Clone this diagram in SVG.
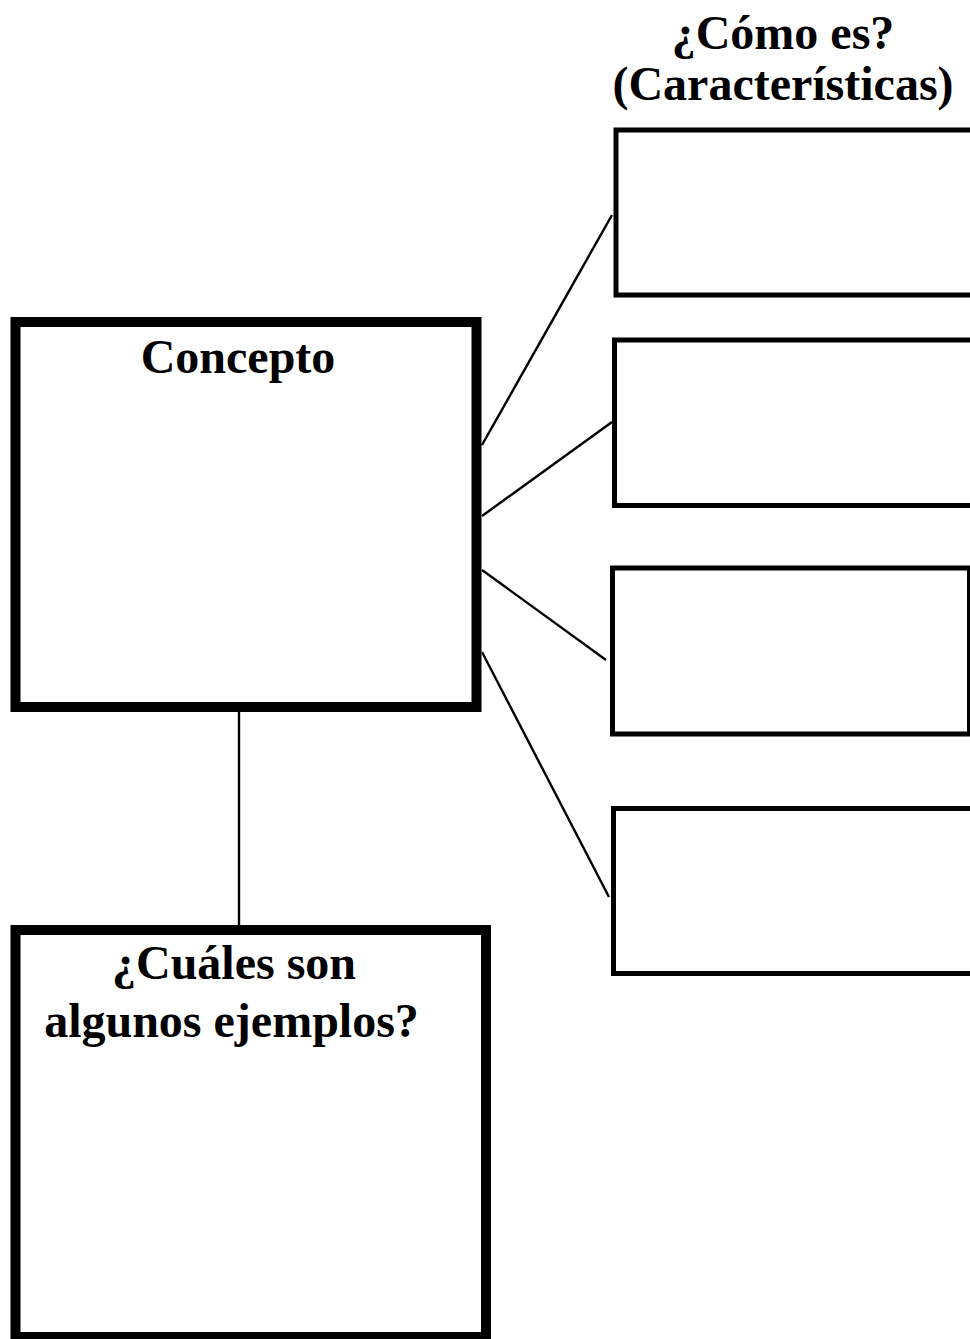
<svg xmlns="http://www.w3.org/2000/svg" width="970" height="1339" viewBox="0 0 970 1339">
  <style>
    .label { font-family: "Liberation Serif", "Times New Roman", serif; font-weight: bold; font-size: 48px; fill: #000; }
    .heavy { fill: #fff; stroke: #000; stroke-width: 10; }
    .light { fill: #fff; stroke: #000; stroke-width: 5; }
    .link { stroke: #000; stroke-width: 2.4; fill: none; }
  </style>
  <rect width="970" height="1339" fill="#fff"/>

  <!-- title above the characteristics column -->
  <g id="title">
    <text class="label" x="783" y="49" text-anchor="middle">¿Cómo es?</text>
    <text class="label" x="783" y="100" text-anchor="middle">(Características)</text>
  </g>

  <!-- connectors -->
  <g id="connectors">
    <line class="link" x1="482" y1="445" x2="612" y2="215"/>
    <line class="link" x1="482" y1="516" x2="612" y2="422"/>
    <line class="link" x1="482" y1="570" x2="606" y2="660"/>
    <line class="link" x1="482" y1="652" x2="609" y2="897"/>
    <line class="link" x1="239" y1="712" x2="239" y2="926"/>
  </g>

  <!-- central concept -->
  <g id="concepto">
    <rect class="heavy" x="15.5" y="322" width="461" height="385"/>
    <text class="label" x="238" y="373" text-anchor="middle">Concepto</text>
  </g>

  <!-- characteristic boxes -->
  <g id="caracteristica-1">
    <rect class="light" x="616" y="130" width="360" height="165"/>
  </g>
  <g id="caracteristica-2">
    <rect class="light" x="614.5" y="340" width="362" height="165.5"/>
  </g>
  <g id="caracteristica-3">
    <rect class="light" x="612.5" y="568" width="357" height="166"/>
  </g>
  <g id="caracteristica-4">
    <rect class="light" x="613.5" y="808.5" width="359" height="165"/>
  </g>

  <!-- examples box -->
  <g id="ejemplos">
    <rect class="heavy" x="15.5" y="930" width="470.5" height="407"/>
    <text class="label" x="234" y="979" text-anchor="middle">¿Cuáles son</text>
    <text class="label" x="231.5" y="1037" text-anchor="middle">algunos ejemplos?</text>
  </g>
</svg>
